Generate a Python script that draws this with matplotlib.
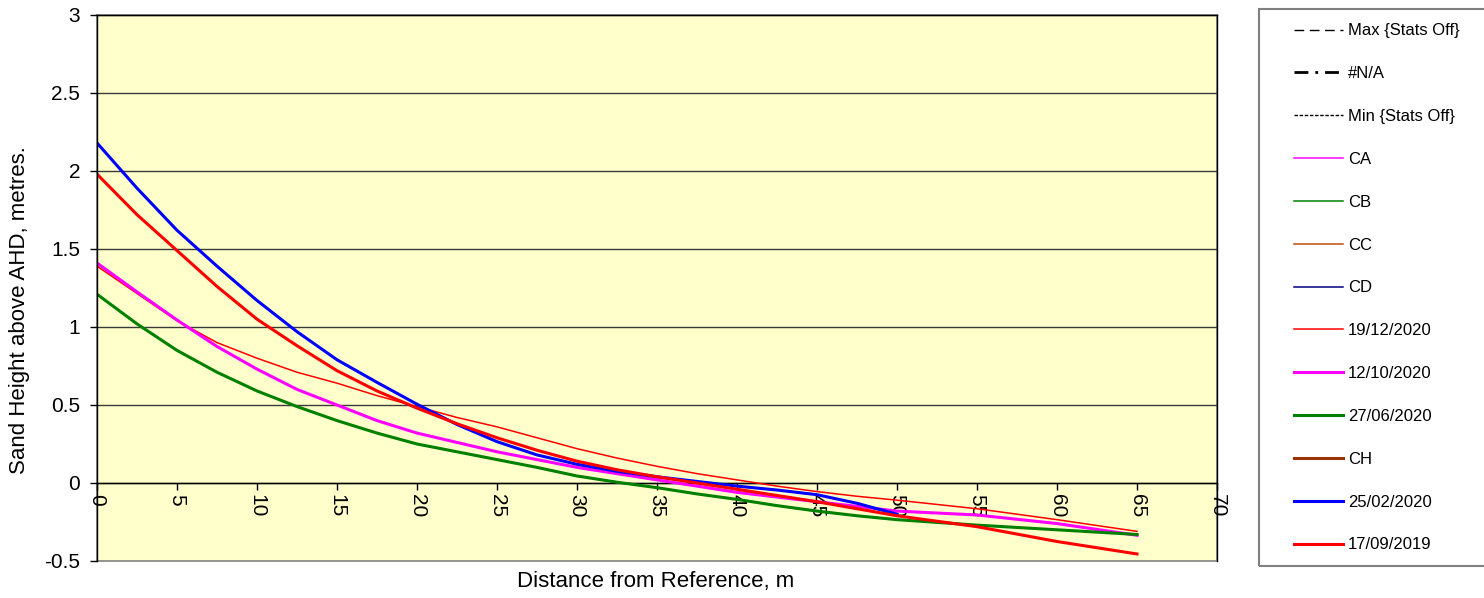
import numpy as np
import matplotlib.pyplot as plt
from matplotlib.patches import Rectangle

plt.rcParams['font.family'] = ['Liberation Sans', 'DejaVu Sans']

# distance from reference, m
dist = [0, 2.5, 5, 7.5, 10, 12.5, 15, 17.5, 20, 22.5, 25, 27.5, 30, 32.5,
        35, 37.5, 40, 42.5, 45, 47.5, 50, 55, 60, 65]
dist_feb = dist[:21]

h_19_12_2020 = [1.39, 1.215, 1.04, 0.90, 0.80, 0.71, 0.64, 0.56, 0.49, 0.42, 0.36, 0.29,
                0.22, 0.16, 0.107, 0.06, 0.02, -0.02, -0.055, -0.085, -0.11, -0.165, -0.235, -0.31]
h_12_10_2020 = [1.41, 1.225, 1.045, 0.875, 0.73, 0.60, 0.50, 0.40, 0.32, 0.26, 0.20, 0.15,
                0.10, 0.06, 0.02, -0.02, -0.06, -0.09, -0.12, -0.15, -0.18, -0.205, -0.26, -0.335]
h_27_06_2020 = [1.21, 1.02, 0.85, 0.71, 0.59, 0.49, 0.40, 0.32, 0.25, 0.20, 0.15, 0.10,
                0.045, 0.005, -0.03, -0.07, -0.105, -0.145, -0.18, -0.21, -0.235, -0.27, -0.30, -0.33]
h_25_02_2020 = [2.18, 1.89, 1.62, 1.39, 1.17, 0.97, 0.79, 0.645, 0.505, 0.375, 0.265, 0.18,
                0.12, 0.075, 0.04, 0.01, -0.02, -0.045, -0.075, -0.13, -0.20]
h_17_09_2019 = [1.98, 1.72, 1.49, 1.26, 1.05, 0.88, 0.72, 0.59, 0.48, 0.38, 0.29, 0.21,
                0.14, 0.085, 0.04, 0.0, -0.04, -0.08, -0.12, -0.165, -0.21, -0.28, -0.375, -0.455]

xticks = list(range(0, 75, 5))
yticks = [-0.5, 0, 0.5, 1, 1.5, 2, 2.5, 3]
ytick_labels = ['-0.5', '0', '0.5', '1', '1.5', '2', '2.5', '3']

fig = plt.figure(figsize=(14.84, 5.98), dpi=100)
ax = fig.add_axes([97 / 1484, 1 - 561 / 598, 1120 / 1484, 546 / 598])
ax.set_facecolor('#FFFFCC')

# x axis sits at zero height
ax.spines['bottom'].set_position(('data', 0))

for y in yticks[1:]:
    ax.axhline(y, color='#3a3a3a', lw=1, zorder=1)

thin = 1.1
thick = 2.2
# legend-only series (no data shown)
ax.plot([], [], color='black', lw=1, ls=(0, (7, 4)), label='Max {Stats Off}')
ax.plot([], [], color='black', lw=2, ls=(0, (5, 2.5, 1, 2.5)), label='#N/A')
ax.plot([], [], color='black', lw=1, ls=(0, (2.5, 1.2)), label='Min {Stats Off}')
ax.plot([], [], color='#FF00FF', lw=thin, label='CA')
ax.plot([], [], color='#008000', lw=thin, label='CB')
ax.plot([], [], color='#C04A10', lw=thin, label='CC')
ax.plot([], [], color='#000080', lw=thin, label='CD')

ax.plot(dist, h_19_12_2020, color='#FF0000', lw=thin, label='19/12/2020', zorder=3)
ax.plot(dist, h_12_10_2020, color='#FF00FF', lw=thick, label='12/10/2020', zorder=3)
ax.plot(dist, h_27_06_2020, color='#008000', lw=thick, label='27/06/2020', zorder=3)
ax.plot([], [], color='#993300', lw=thick, label='CH')
ax.plot(dist_feb, h_25_02_2020, color='#0000FF', lw=thick, label='25/02/2020', zorder=3)
ax.plot(dist, h_17_09_2019, color='#FF0000', lw=thick, label='17/09/2019', zorder=3)

ax.set_xlim(0, 70)
ax.set_ylim(-0.5, 3)
ax.set_yticks(yticks)
ax.set_yticklabels(ytick_labels)
ax.set_xticks(xticks)
ax.set_xticklabels([str(v) for v in xticks])

ax.spines['bottom'].set_zorder(2)
for s in ['left', 'top', 'right', 'bottom']:
    ax.spines[s].set_color('black')
    ax.spines[s].set_linewidth(1)
ax.add_patch(Rectangle((0, 0), 1, 1, transform=ax.transAxes, fill=False,
                       edgecolor='#808080', lw=1.2, zorder=0.5, clip_on=False))
ax.spines['left'].set_zorder(4)

ax.tick_params(axis='both', labelsize=15, length=5, width=1, colors='black')
ax.tick_params(axis='x', pad=3, labelrotation=-90)
ax.tick_params(axis='y', pad=7)

fig.text(656 / 1484, 1 - 581 / 598, 'Distance from Reference, m', ha='center', va='center', fontsize=16)
fig.text(20 / 1484, 1 - 310 / 598, 'Sand Height above AHD, metres.', ha='center', va='center',
         rotation=90, fontsize=16)

# legend frame
fig.patches.append(Rectangle((1259 / 1484, 1 - 566 / 598), 240 / 1484, 557 / 598,
                             transform=fig.transFigure, fill=False, edgecolor='#808080', lw=1.5))
handles, labels = ax.get_legend_handles_labels()
fig.legend(handles, labels, loc='upper left', bbox_to_anchor=(1294 / 1484, 1 - 23.5 / 598),
           frameon=False, fontsize=12, handlelength=2.94, handletextpad=0.3,
           labelspacing=1.67, borderpad=0, borderaxespad=0)

fig.savefig('out.png', dpi=100)
